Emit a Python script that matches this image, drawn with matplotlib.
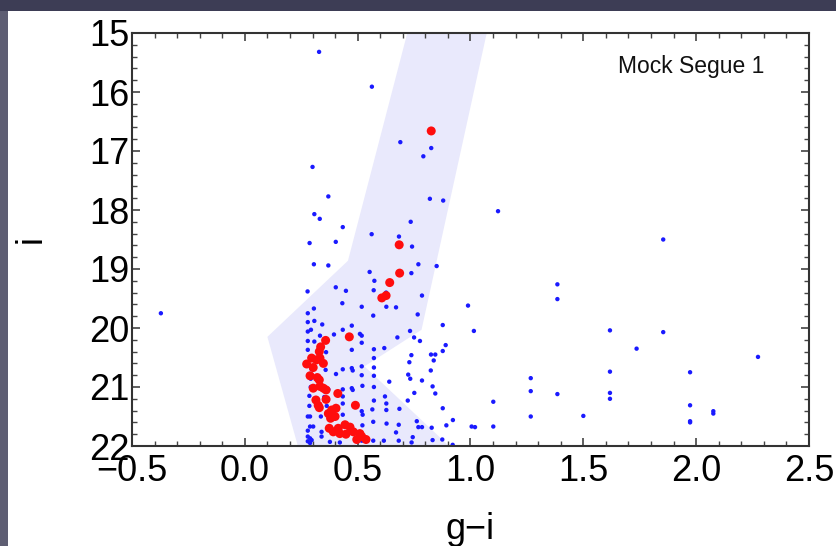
import matplotlib
matplotlib.use("Agg")
import matplotlib.pyplot as plt
from matplotlib.patches import Polygon, Rectangle
from matplotlib.ticker import MultipleLocator

plt.rcParams['font.family'] = ['Liberation Sans', 'DejaVu Sans']

# Selection region (polygon in g-i / i space)
region_x = [0.72, 1.072, 0.783, 0.53, 0.905, 0.235, 0.10, 0.457]
region_y = [15.0, 15.0, 20.03, 20.65, 22.0, 22.0, 20.15, 18.86]

# Member stars (red)
red_x = [0.826, 0.684, 0.686, 0.642, 0.607, 0.626,
         0.463, 0.358, 0.336, 0.330, 0.296, 0.318, 0.274, 0.333, 0.348, 0.303,
         0.289, 0.321, 0.330, 0.303, 0.333, 0.348, 0.360, 0.412,
         0.315, 0.325, 0.360, 0.330, 0.490,
         0.370, 0.385, 0.404, 0.400, 0.380,
         0.374, 0.392, 0.414, 0.444, 0.421, 0.448, 0.466, 0.481, 0.510, 0.518, 0.537, 0.496]
red_y = [16.66, 18.59, 19.07, 19.23, 19.49, 19.45,
         20.15, 20.21, 20.32, 20.40, 20.51, 20.54, 20.61, 20.51, 20.60, 20.67,
         20.81, 20.84, 20.88, 21.02, 20.99, 21.02, 21.05, 21.11,
         21.22, 21.31, 21.21, 21.35, 21.31,
         21.45, 21.39, 21.36, 21.50, 21.53,
         21.70, 21.76, 21.70, 21.64, 21.79, 21.80, 21.68, 21.76, 21.79, 21.84, 21.89, 21.89]

# Field stars (blue)
blue_x = [0.329, 0.563, 0.689, 0.826, 0.791, 0.300, 0.370, 0.820, 0.879, 1.122, 0.308, 0.332,
          0.735, 0.434, 0.562, 0.683, 1.854, 0.287, 0.403, 0.741, 0.306, 0.370, 0.769, 0.850,
          0.553, 0.738, 0.574, 1.385, 1.385, -0.372,
          0.278, 0.403, 0.448, 0.571, 0.626, 0.785, 0.989, 0.766, 0.877,
          0.432, 0.518, 0.627, 0.670, 0.306, 0.279, 0.569,
          0.279, 0.308, 0.343, 0.474, 0.279, 0.293, 0.434, 0.732, 1.015, 1.618, 1.854,
          0.395, 0.510, 0.518, 0.333, 0.676, 0.750, 0.776, 0.279, 0.308, 0.518, 0.890,
          0.474, 0.360, 0.572, 0.618, 0.279, 0.877, 1.736,
          0.296, 0.738, 0.825, 0.844, 2.274, 0.572, 0.837, 0.729,
          0.518, 0.572, 0.296, 0.358, 0.404, 0.434, 0.474, 0.478, 0.824, 1.618, 1.973,
          0.724, 0.733, 0.518, 0.572, 0.292, 0.785, 0.640, 1.267,
          0.521, 0.572, 0.832, 0.292, 0.370, 0.434, 0.474, 0.478,
          0.751, 0.844, 1.267, 1.385, 1.618, 1.618, 0.621, 0.286, 0.352, 0.434,
          0.572, 0.722, 1.101, 0.627, 0.286, 0.363, 0.434, 1.973, 0.877,
          0.565, 0.627, 0.685, 2.076, 2.076, 0.518, 0.522,
          0.279, 0.289, 0.337, 0.434, 1.267, 1.500,
          0.569, 0.628, 0.682, 0.762, 0.922, 1.973, 1.973, 0.893, 0.769, 0.785, 0.828, 1.005,
          1.020, 1.101, 0.521, 0.289, 0.303,
          0.670, 0.340, 0.279, 0.744, 0.340, 0.279, 0.289, 0.296, 0.279, 0.289,
          0.739, 0.832, 0.875, 0.921, 0.616, 0.682, 0.518, 0.569, 0.377, 0.421, 0.518]
blue_y = [15.32, 15.91, 16.85, 16.95, 17.09, 17.27, 17.77, 17.81, 17.84, 18.02, 18.07, 18.15,
          18.20, 18.29, 18.41, 18.45, 18.50, 18.56, 18.54, 18.62, 18.92, 18.94, 18.92, 18.95,
          19.05, 19.07, 19.20, 19.26, 19.51, 19.75,
          19.38, 19.31, 19.37, 19.36, 19.40, 19.45, 19.62, 19.77, 19.95,
          19.58, 19.64, 19.64, 19.65, 19.67, 19.75, 19.79,
          19.90, 19.88, 19.94, 19.96, 20.06, 20.03, 20.03, 20.05, 20.05, 20.04, 20.07,
          20.11, 20.10, 20.13, 20.13, 20.16, 20.16, 20.22, 20.22, 20.23, 20.25, 20.29,
          20.37, 20.41, 20.36, 20.34, 20.37, 20.39, 20.35,
          20.49, 20.46, 20.45, 20.45, 20.49, 20.51, 20.55, 20.58,
          20.65, 20.67, 20.70, 20.71, 20.78, 20.70, 20.68, 20.72, 20.72, 20.74, 20.75,
          20.79, 20.86, 20.80, 20.81, 20.86, 20.89, 20.91, 20.85,
          20.98, 21.00, 20.99, 21.00, 21.04, 21.04, 21.02, 21.05,
          21.10, 21.11, 21.07, 21.12, 21.10, 21.20, 21.16, 21.15, 21.17, 21.16,
          21.23, 21.23, 21.25, 21.28, 21.32, 21.32, 21.28, 21.31, 21.36,
          21.38, 21.39, 21.37, 21.41, 21.45, 21.41, 21.47,
          21.50, 21.50, 21.50, 21.47, 21.50, 21.49,
          21.59, 21.62, 21.64, 21.58, 21.56, 21.58, 21.60, 21.65, 21.68, 21.68, 21.69, 21.67,
          21.68, 21.67, 21.65, 21.67, 21.67,
          21.77, 21.76, 21.74, 21.85, 21.84, 21.84, 21.87, 21.90, 21.92, 21.95,
          21.94, 21.90, 21.89, 21.98, 21.91, 21.91, 21.91, 21.91, 21.93, 21.94, 21.81]

xticks = [-0.5, 0.0, 0.5, 1.0, 1.5, 2.0, 2.5]
yticks = [15, 16, 17, 18, 19, 20, 21, 22]
label_text = "Mock Segue 1"

W, H = 837, 546
fig = plt.figure(figsize=(W / 100, H / 100), dpi=100, facecolor='#3d3d55')
fig.patches.append(Rectangle((0, 0), 8 / W, 1 - 11 / H, transform=fig.transFigure,
                             facecolor='#5e5e73', edgecolor='none', zorder=-2))
fig.patches.append(Rectangle((8 / W, 0), 1, 1 - 11 / H, transform=fig.transFigure,
                             facecolor='white', edgecolor='none', zorder=-1))

ax = fig.add_axes([132 / W, (H - 446) / H, 677 / W, 413 / H])
ax.set_facecolor('white')

poly = Polygon(list(zip(region_x, region_y)), closed=True, facecolor='#e9e9fc',
               edgecolor='none', zorder=1)
ax.add_patch(poly)

ax.scatter(blue_x, blue_y, s=10, color='#1a1aff', edgecolors='none', zorder=2)
ax.scatter(red_x, red_y, s=42, color='#ff0d0d', edgecolors='none', zorder=3)

ax.set_xlim(-0.5, 2.5)
ax.set_ylim(22, 15)
ax.set_xticks(xticks)
ax.set_xticklabels([f"{v:.1f}".replace('-', '\u2212') for v in xticks])
ax.set_yticks(yticks)
ax.set_yticklabels([str(v) for v in yticks])
ax.xaxis.set_minor_locator(MultipleLocator(0.1))
ax.yaxis.set_minor_locator(MultipleLocator(0.2))

ax.tick_params(which='both', direction='in', top=True, right=True, color='#444444')
ax.tick_params(which='major', length=6, width=1.2, labelsize=26, pad=2)
ax.tick_params(axis='x', which='major', pad=6)
ax.tick_params(which='minor', length=3.5, width=1.0)
for s in ax.spines.values():
    s.set_color('#333333')
    s.set_linewidth(1.5)

ax.set_xlabel('g\u2212i', fontsize=26, labelpad=16)
fig.text(31 / W, 1 - 239 / H, 'i', fontsize=26, rotation=90, ha='center', va='center')

ax.text(1.979, 15.57, label_text, fontsize=16.5, ha='center', va='center', color='#111111')

fig.savefig('out.png', dpi=100, facecolor=fig.get_facecolor())
